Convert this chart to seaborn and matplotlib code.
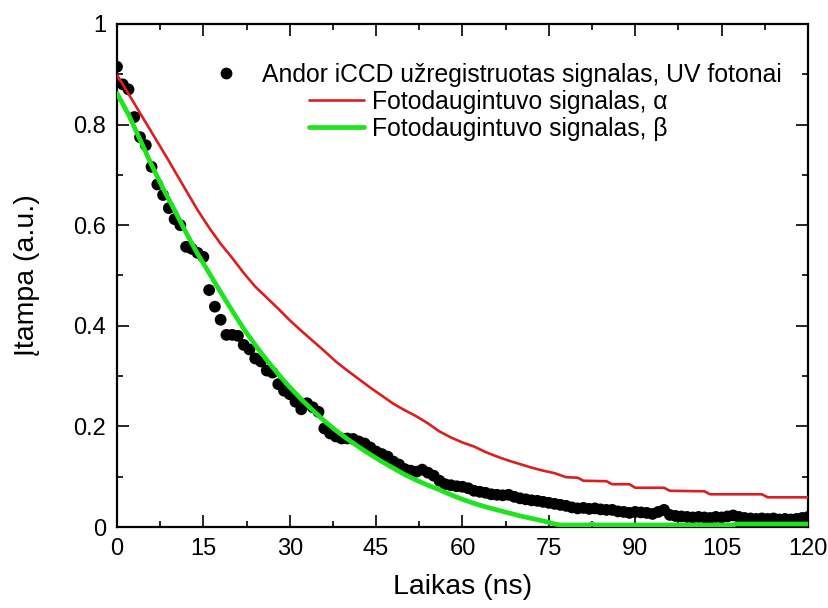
import numpy as np
import pandas as pd
import matplotlib
matplotlib.use("Agg")
import matplotlib.pyplot as plt
import seaborn as sns
from matplotlib.ticker import MultipleLocator
from matplotlib.legend import Legend

# ---------------- data ----------------
iccd_t = list(range(0, 121))
iccd_v = [0.915, 0.880, 0.870, 0.815, 0.775, 0.759, 0.716, 0.681, 0.660, 0.634,
          0.612, 0.600, 0.557, 0.553, 0.545, 0.537, 0.471, 0.438, 0.412, 0.382,
          0.382, 0.380, 0.362, 0.353, 0.335, 0.329, 0.311, 0.307, 0.284, 0.271,
          0.264, 0.249, 0.234, 0.246, 0.238, 0.229, 0.196, 0.186, 0.180, 0.176,
          0.176, 0.175, 0.170, 0.166, 0.158, 0.150, 0.145, 0.140, 0.130, 0.124,
          0.115, 0.112, 0.110, 0.114, 0.108, 0.102, 0.092, 0.085, 0.083, 0.081,
          0.080, 0.077, 0.072, 0.070, 0.068, 0.065, 0.064, 0.063, 0.064, 0.060,
          0.057, 0.055, 0.053, 0.052, 0.050, 0.048, 0.046, 0.044, 0.042, 0.039,
          0.037, 0.038, 0.036, 0.037, 0.035, 0.034, 0.034, 0.031, 0.030, 0.028,
          0.030, 0.029, 0.028, 0.026, 0.030, 0.034, 0.024, 0.022, 0.021, 0.020,
          0.019, 0.020, 0.019, 0.018, 0.020, 0.019, 0.021, 0.023, 0.020, 0.018,
          0.017, 0.016, 0.017, 0.016, 0.017, 0.015, 0.016, 0.015, 0.016, 0.018,
          0.020]

alpha_t = [0, 1, 2, 3, 4, 5, 6, 7, 8, 9, 10, 12, 14, 16, 18, 20, 22, 24, 26, 28,
           30, 32, 34, 36, 38, 40, 42, 44, 46, 48, 50, 52, 54, 56, 58, 60, 62, 64,
           66, 68, 70, 72, 74, 76, 78, 80, 81, 85, 86, 89, 90, 95, 96, 102, 103,
           112, 113, 120]
alpha_v = [0.899, 0.880, 0.861, 0.842, 0.823, 0.804, 0.785, 0.766, 0.747, 0.728,
           0.708, 0.669, 0.630, 0.595, 0.563, 0.535, 0.505, 0.478, 0.456, 0.434,
           0.411, 0.390, 0.370, 0.350, 0.329, 0.311, 0.294, 0.277, 0.261, 0.245,
           0.232, 0.220, 0.206, 0.190, 0.178, 0.168, 0.160, 0.149, 0.140, 0.132,
           0.125, 0.118, 0.112, 0.107, 0.099, 0.098, 0.092, 0.091, 0.085, 0.085,
           0.078, 0.078, 0.072, 0.071, 0.065, 0.065, 0.059, 0.059]

beta_t = [0, 2, 4, 6, 8, 10, 12, 14, 16, 18, 20, 22, 24, 26, 28, 30, 32, 34, 36,
          38, 40, 42, 44, 46, 48, 50, 52, 54, 56, 58, 60, 62, 64, 66, 68, 70, 72,
          74, 76, 77, 82, 82.5, 83, 107, 107.5, 120]
beta_v = [0.862, 0.820, 0.770, 0.720, 0.673, 0.630, 0.585, 0.543, 0.505, 0.467,
          0.430, 0.394, 0.362, 0.332, 0.304, 0.278, 0.254, 0.232, 0.211, 0.192,
          0.175, 0.159, 0.144, 0.130, 0.117, 0.104, 0.093, 0.083, 0.074, 0.064,
          0.055, 0.047, 0.040, 0.034, 0.028, 0.022, 0.017, 0.012, 0.006, 0.004,
          0.004, 0.006, 0.004, 0.004, 0.006, 0.006]

labels = ["Andor iCCD užregistruotas signalas, UV fotonai",
          "Fotodaugintuvo signalas, α",
          "Fotodaugintuvo signalas, β"]
x_ticks = [0, 15, 30, 45, 60, 75, 90, 105, 120]
y_ticks = [0, 0.2, 0.4, 0.6, 0.8, 1.0]
y_tick_labels = ["0", "0.2", "0.4", "0.6", "0.8", "1"]
x_label = "Laikas (ns)"
y_label = "Įtampa (a.u.)"

# ---------------- style ----------------
sns.set_theme(style="ticks")
plt.rcParams["font.family"] = ["Liberation Sans", "DejaVu Sans"]
plt.rcParams["text.color"] = "black"
plt.rcParams["axes.labelcolor"] = "black"
plt.rcParams["xtick.color"] = "black"
plt.rcParams["ytick.color"] = "black"

fig = plt.figure(figsize=(8.29, 6.08), dpi=100)
W, H = 829, 608
L, R, T, B = 117, 808, 24, 527
ax = fig.add_axes([L / W, 1 - B / H, (R - L) / W, (B - T) / H])

df_iccd = pd.DataFrame({"t": iccd_t, "v": iccd_v})
df_a = pd.DataFrame({"t": alpha_t, "v": alpha_v})
df_b = pd.DataFrame({"t": beta_t, "v": beta_v})

sns.scatterplot(data=df_iccd, x="t", y="v", ax=ax, color="black", s=72,
                edgecolor="none", linewidth=0, zorder=3, legend=False)
sns.lineplot(data=df_a, x="t", y="v", ax=ax, color="#dc1e1e", linewidth=1.9,
             sort=False, estimator=None, zorder=4, legend=False)
sns.lineplot(data=df_b, x="t", y="v", ax=ax, color="#1ee31e", linewidth=3.4,
             sort=False, estimator=None, zorder=5, legend=False)

ax.set_xlim(0, 120)
ax.set_ylim(0, 1)
ax.set_xticks(x_ticks)
ax.set_xticklabels([str(v) for v in x_ticks])
ax.set_yticks(y_ticks)
ax.set_yticklabels(y_tick_labels)
ax.xaxis.set_minor_locator(MultipleLocator(7.5))
ax.yaxis.set_minor_locator(MultipleLocator(0.1))

for s in ax.spines.values():
    s.set_visible(True)
    s.set_color("black")
    s.set_linewidth(1.6)

ax.tick_params(which="both", direction="in", top=True, right=True,
               colors="black", width=1.2)
ax.tick_params(which="major", length=8.5)
ax.tick_params(which="minor", length=4.5)
ax.tick_params(axis="both", which="major", labelsize=17, pad=8)

ax.set_xlabel(x_label, fontsize=20.5, labelpad=10)
ax.set_ylabel(y_label, fontsize=20.5, labelpad=24)

# legend: one centered row per entry (Origin-style centering)
handles = [
    plt.Line2D([], [], linestyle="none", marker="o", markersize=8.5,
               markerfacecolor="black", markeredgecolor="none"),
    plt.Line2D([], [], color="#dc1e1e", linewidth=1.9),
    plt.Line2D([], [], color="#1ee31e", linewidth=3.4),
]
row_cx = [490, 488, 488]
row_cy = [75, 102, 129]
for h, lab, cx, cy in zip(handles, labels, row_cx, row_cy):
    lg = Legend(ax, [h], [lab], loc="center",
                bbox_to_anchor=((cx - L) / (R - L), (B - cy) / (B - T)),
                bbox_transform=ax.transAxes,
                frameon=False, fontsize=17.8, handlelength=2.25,
                handletextpad=0.3, borderpad=0, borderaxespad=0)
    ax.add_artist(lg)

fig.savefig("out.png", dpi=100, facecolor="white")
